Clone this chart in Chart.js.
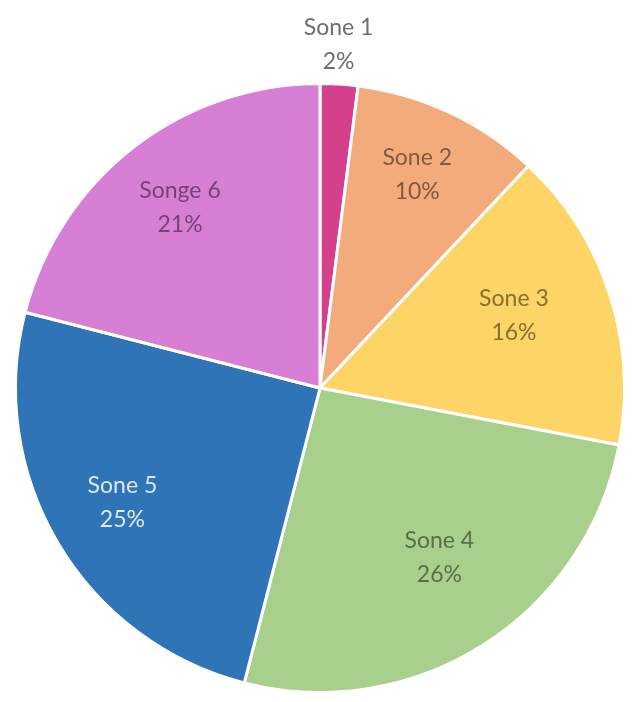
<!DOCTYPE html>
<html>
<head>
<meta charset="utf-8">
<script src="https://cdn.jsdelivr.net/npm/chart.js@4.4.1/dist/chart.umd.min.js"></script>
<style>
  html, body { margin: 0; padding: 0; background: #fff; }
  #wrap { width: 632px; height: 702px; }
</style>
</head>
<body>
<div id="wrap"><canvas id="camembert"></canvas></div>
<script>
// parts par zone (en %)
const zones = ["Sone 1", "Sone 2", "Sone 3", "Sone 4", "Sone 5", "Songe 6"]
const parts = [2, 10, 16, 26, 25, 21]
const couleurs = ["#d5408d", "#f4ab7b", "#fdd466", "#a8d08c", "#2e74b6", "#d67fd5"]

// placement des étiquettes : rayon relatif et décalage d'angle (degrés)
const etiqRayon = [1.13, 0.77, 0.68, 0.68, 0.75, 0.75]
const etiqDecal = [-0.5, -0.7, -2.5, -2.8, 0.5, 0]
const etiqCouleur = ["#6e6e6e", "rgba(60,40,30,0.62)", "rgba(60,50,20,0.62)", "rgba(40,50,30,0.62)", "#dce9f7", "rgba(60,20,60,0.6)"]

// étiquettes "Sone x" + pourcentage
const etiquettes = {
  id: "etiquettes",
  afterDatasetsDraw(chart) {
    const ctx = chart.ctx
    const arcs = chart.getDatasetMeta(0).data
    ctx.save()
    ctx.font = '23px "Lato", "Open Sans", sans-serif'
    ctx.textAlign = "center"
    ctx.textBaseline = "middle"
    arcs.forEach((arc, i) => {
      const milieu = (arc.startAngle + arc.endAngle) / 2 + etiqDecal[i] * Math.PI / 180
      const r = arc.outerRadius * etiqRayon[i]
      const x = arc.x + Math.cos(milieu) * r
      const y = arc.y + Math.sin(milieu) * r
      ctx.fillStyle = etiqCouleur[i]
      ctx.fillText(zones[i], x, y - 17)
      ctx.fillText(parts[i] + "%", x, y + 17)
    })
    ctx.restore()
  }
}

new Chart(document.getElementById("camembert"), {
  type: "pie",
  data: {
    labels: zones,
    datasets: [{
      data: parts,
      backgroundColor: couleurs,
      borderColor: "#ffffff",
      borderWidth: 3
    }]
  },
  options: {
    responsive: true,
    maintainAspectRatio: false,
    animation: false,
    layout: { padding: { top: 82, bottom: 8, left: 14, right: 6 } },
    plugins: {
      legend: { display: false },
      tooltip: { enabled: false }
    }
  },
  plugins: [etiquettes]
})
</script>
</body>
</html>
